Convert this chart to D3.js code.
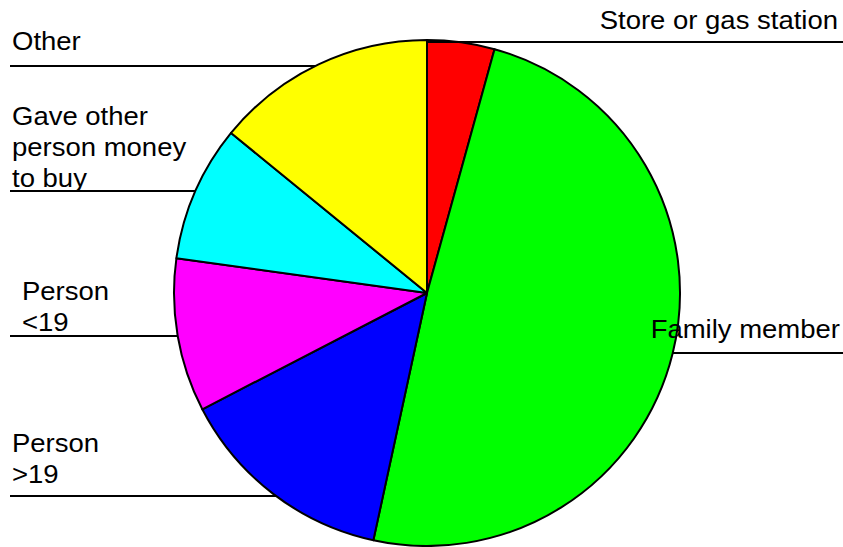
<!DOCTYPE html>
<html>
<head>
<meta charset="utf-8">
<script src="https://cdn.jsdelivr.net/npm/d3@7/dist/d3.min.js"></script>
<style>
  html, body { margin: 0; padding: 0; background: #fff; }
  svg { display: block; }
  text { font-family: "Liberation Sans", Arial, sans-serif; fill: #000; }
</style>
</head>
<body>
<svg id="chart" width="843" height="547"></svg>
<script>
// Where respondents got their cigarettes (percent of responses)
const categories = [
  "Store or gas station",
  "Family member",
  "Person >19",
  "Person <19",
  "Gave other person money to buy",
  "Other"
];
const values = [4.3, 49.1, 14.0, 9.8, 8.7, 14.1];
const colors = ["#ff0000", "#00ff00", "#0000ff", "#ff00ff", "#00ffff", "#ffff00"];

// Label text broken into lines as printed beside the pie
const labelLines = [
  ["Store or gas station"],
  ["Family member"],
  ["Person", ">19"],
  ["Person", "<19"],
  ["Gave other", "person money", "to buy"],
  ["Other"]
];

const svg = d3.select("#chart");
const cx = 427, cy = 293, r = 253;

const pie = d3.pie().sort(null).value(d => d)(values);
const arc = d3.arc().innerRadius(0).outerRadius(r);

const g = svg.append("g").attr("transform", `translate(${cx},${cy})`);
g.selectAll("path.slice")
  .data(pie)
  .join("path")
  .attr("class", "slice")
  .attr("d", arc)
  .attr("fill", (d, i) => colors[i])
  .attr("stroke", "#000")
  .attr("stroke-width", 2)
  .attr("stroke-linejoin", "round");

// Label placement: text anchor side, first baseline, leader-line y
const labelLayout = [
  { side: "right", x: 838, y: 29, lineY: 42 },
  { side: "right", x: 840, y: 338, lineY: 353 },
  { side: "left", x: 12, y: 452, lineY: 496 },
  { side: "left", x: 22, y: 300, lineY: 336 },
  { side: "left", x: 12, y: 125, lineY: 191 },
  { side: "left", x: 12, y: 50, lineY: 66 }
];
const lineGap = 31;
const stretch = 1.1;   // labels are set slightly wide

labelLayout.forEach((L, i) => {
  const dy = L.lineY - cy;
  const half = Math.sqrt(Math.max(0, r * r - dy * dy));
  const x1 = L.side === "left" ? 10 : cx + half;
  const x2 = L.side === "left" ? cx - half : 843;
  const lx1 = (i === 0) ? cx : x1;
  svg.append("line")
    .attr("x1", lx1).attr("x2", x2)
    .attr("y1", L.lineY).attr("y2", L.lineY)
    .attr("stroke", "#000").attr("stroke-width", 2);

  const t = svg.append("text")
    .attr("transform", `translate(${L.x},${L.y}) scale(${stretch},1)`)
    .attr("font-size", 25)
    .attr("text-anchor", L.side === "left" ? "start" : "end");
  labelLines[i].forEach((s, k) => {
    t.append("tspan").attr("x", 0).attr("y", k * lineGap).text(s);
  });
});
</script>
</body>
</html>
